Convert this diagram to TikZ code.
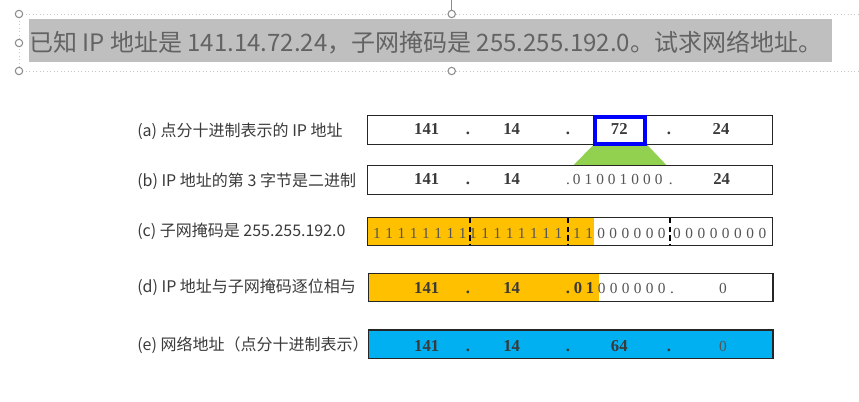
\documentclass[tikz,border=0pt]{standalone}
\usepackage{fontspec}
\setmainfont{Liberation Serif}
\newfontfamily\cjk{Noto Sans CJK SC}
\usepackage{xcolor}
\usepackage{tikz}
\definecolor{ipgold}{HTML}{FFC000}
\definecolor{ipsky}{HTML}{00B0F0}
\definecolor{ipgreen}{HTML}{92D050}
\definecolor{ipink}{HTML}{3A3A3A}
\definecolor{ipsoft}{HTML}{555555}
\definecolor{ipband}{HTML}{BFBFBF}
\definecolor{iptitle}{HTML}{636363}
\tikzset{
  iprow/.style={draw=black!85, line width=1.1pt},
  ipdiv/.style={draw=black, line width=1pt, dash pattern=on 4pt off 2.5pt},
  ipfocus/.style={draw=blue, line width=3pt, inner sep=0pt},
  ipnum/.style={font=\fontsize{12.5}{13}\selectfont\bfseries, text=ipink, inner sep=0pt, anchor=base},
  ipbit/.style={font=\fontsize{11.5}{13}\selectfont, text=ipsoft, inner sep=0pt, anchor=base},
  iplabel/.style={font=\cjk\fontsize{12}{14}\selectfont, text=ipink, anchor=west, inner sep=0pt},
  iphandle/.style={draw=black!45, fill=white, line width=0.8pt},
  ipguide/.style={draw=black!22, line width=0.6pt, dotted},
}

\begin{document}
\begin{tikzpicture}[x=0.75pt, y=-0.75pt]
\useasboundingbox (0,0) rectangle (859,402);
% title box with its handles
\draw[ipguide] (19,14) -- (859,14);
\draw[ipguide] (19,71) -- (859,71);
\draw[ipguide] (19,14) -- (19,71);
\draw[black!45, line width=0.8pt] (451.7,0) -- (451.7,10);
\fill[ipband] (28.7,19) rectangle (831.7,62);
\node[font=\cjk\fontsize{18}{21}\selectfont, text=iptitle, anchor=west, inner sep=0pt] (title) at (29,43)
  {已知 IP 地址是 141.14.72.24，子网掩码是 255.255.192.0。试求网络地址。};
\draw[iphandle] (19,14) circle (3.7);
\draw[iphandle] (19,43) circle (3.7);
\draw[iphandle] (19,71) circle (3.7);
\draw[iphandle] (451.7,14) circle (3.7);
\draw[iphandle] (451.7,71) circle (3.7);
% row labels
\node[iplabel] (la) at (137,131) {(a) 点分十进制表示的 IP 地址};
\node[iplabel] (lb) at (137,181) {(b) IP 地址的第 3 字节是二进制};
\node[iplabel] (lc) at (137,231) {(c) 子网掩码是 255.255.192.0};
\node[iplabel] (ld) at (137,287.7) {(d) IP 地址与子网掩码逐位相与};
\node[iplabel] (le) at (137,345.7) {(e) 网络地址（点分十进制表示）};
% rows
\draw[iprow, fill=white] (367.3,115.7) rectangle (772.3,144.3);
\fill[ipgreen] (593.3,145) -- (647.3,145) -- (667.3,166) -- (572.7,166) -- cycle;
\draw[iprow, fill=white] (367.3,165.3) rectangle (772.3,194.3);
\fill[ipgold] (367.3,217.5) rectangle (594.3,245.7);
\draw[iprow] (367.3,217.5) rectangle (772.5,245.7);
\draw[ipdiv] (470,218) -- (470,245);
\draw[ipdiv] (568,218) -- (568,245);
\draw[ipdiv] (670,218) -- (670,245);
\fill[ipgold] (368.3,273.3) rectangle (599,301.7);
\draw[iprow] (368.3,273.3) rectangle (773,301.7);
\draw[iprow, fill=ipsky] (368.3,330) rectangle (773,358.3);
\node[ipfocus, minimum width=37.5pt, minimum height=20pt] (focus) at (620.3,130.4) {};
% (a) dotted decimal
\node[ipnum] (a1) at (426.7,135) {141};
\node[ipnum] (ad1) at (468,135) {.};
\node[ipnum] (a2) at (511.7,135) {14};
\node[ipnum] (ad2) at (568,135) {.};
\node[ipnum] (a3) at (619.3,135) {72};
\node[ipnum] (ad3) at (669,135) {.};
\node[ipnum] (a4) at (721,135) {24};
% (b) third byte in binary
\node[ipnum] (b1) at (426.7,184.5) {141};
\node[ipnum] (bd1) at (468,184.5) {.};
\node[ipnum] (b2) at (511.7,184.5) {14};
\node[ipbit] (bd2) at (568,184.5) {.};
\foreach \b [count=\j from 0] in {0,1,0,0,1,0,0,0}
  \node[ipbit] (b3-\j) at (576.7+11.7*\j,184.5) {\b};
\node[ipbit] (bd3) at (670.7,184.5) {.};
\node[ipnum] (b4) at (721.7,184.5) {24};
% (c) mask bits
\foreach \b [count=\j from 0] in {1,1,1,1,1,1,1,1}
  \node[ipbit] (c1-\j) at (377+12.25*\j,239) {\b};
\foreach \b [count=\j from 0] in {1,1,1,1,1,1,1,1}
  \node[ipbit] (c2-\j) at (473+12.2*\j,239) {\b};
\foreach \b [count=\j from 0] in {1,1,0,0,0,0,0,0}
  \node[ipbit] (c3-\j) at (577+12.1*\j,239) {\b};
\foreach \b [count=\j from 0] in {0,0,0,0,0,0,0,0}
  \node[ipbit] (c4-\j) at (677+12.2*\j,239) {\b};
% (d) bitwise and
\node[ipnum] (d1) at (426.7,294) {141};
\node[ipnum] (dd1) at (468,294) {.};
\node[ipnum] (d2) at (511.7,294) {14};
\node[ipnum] (dd2) at (568,294) {.};
\node[ipnum] (d3a) at (578,294) {0};
\node[ipnum] (d3b) at (590,294) {1};
\foreach \j in {0,...,5}
  \node[ipbit] (d3-\j) at (601.7+12*\j,294) {0};
\node[ipbit] (dd3) at (672,294) {.};
\node[ipbit] (d4) at (723,294) {0};
% (e) network address
\node[ipnum] (e1) at (426.7,351) {141};
\node[ipnum] (ed1) at (468,351) {.};
\node[ipnum] (e2) at (511.7,351) {14};
\node[ipnum] (ed2) at (568,351) {.};
\node[ipnum] (e3) at (619.3,351) {64};
\node[ipnum] (ed3) at (669,351) {.};
\node[ipbit] (e4) at (723,351) {0};
\end{tikzpicture}
\end{document}
